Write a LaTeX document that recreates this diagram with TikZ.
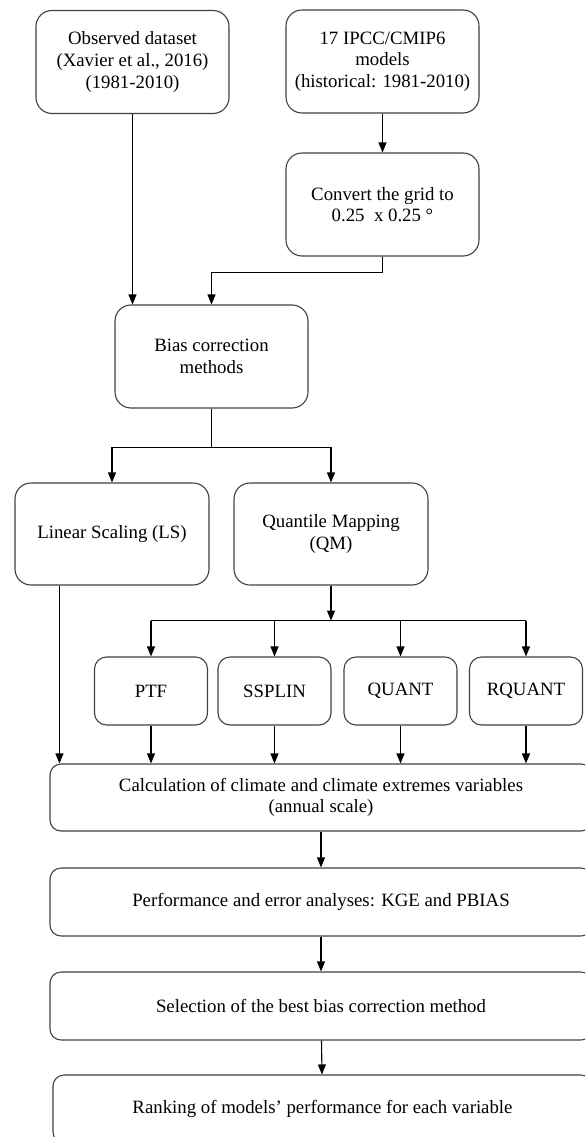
\documentclass[tikz,border=0pt]{standalone}
\usepackage{fontspec}
\setmainfont{Liberation Serif}
\usetikzlibrary{arrows.meta,positioning}

\begin{document}
\begin{tikzpicture}[x=1pt,y=-1pt,
    box/.style={draw=black!75, line width=1.1pt, rounded corners=16pt, align=center,
        inner sep=0pt, font=\fontsize{18.8}{21.6}\selectfont},
    bigbox/.style={box, minimum width=193pt, minimum height=103pt},
    subbox/.style={box, rounded corners=12pt, minimum width=113pt, minimum height=68pt},
    longbox/.style={box, rounded corners=11pt, minimum width=542pt, minimum height=68pt},
    link/.style={line width=1.1pt},
    flow/.style={link, -{Triangle[length=10pt,width=8pt]}}]
    \useasboundingbox (0,0) rectangle (585,1137);
    % Input data
    \node[bigbox] (obs) at (132.5,62) {Observed dataset\\(Xavier et al., 2016)\\(1981-2010)};
    \node[bigbox] (ipcc) at (382.5,61.5) {17 IPCC/CMIP6\\models\\(historical: 1981-2010)};
    \node[bigbox] (grid) at (382.5,204.5) {Convert the grid to\\0.25~ x 0.25 °};
    % Correction methods
    \node[bigbox] (bias) at (211.5,356.5) {Bias correction\\methods};
    \node[bigbox, minimum width=194pt, minimum height=102pt] (ls) at (112,534) {Linear Scaling (LS)};
    \node[bigbox, minimum width=194pt, minimum height=102pt] (qm) at (331,534) {Quantile Mapping\\(QM)};
    % Quantile mapping variants
    \node[subbox] (ptf) at (151,691) {PTF};
    \node[subbox] (ssplin) at (274.5,691) {SSPLIN};
    \node[subbox] (quant) at (400.5,691) {QUANT};
    \node[subbox] (rquant) at (526,691) {RQUANT};
    % Evaluation steps
    \node[longbox, minimum height=67pt] (calc) at (321,797.5) {Calculation of climate and climate extremes variables\\(annual scale)};
    \node[longbox] (perf) at (321,902) {Performance and error analyses: KGE and PBIAS};
    \node[longbox] (sel) at (321,1006) {Selection of the best bias correction method};
    \node[longbox, minimum width=539pt] (rank) at (322.5,1109) {Ranking of models’ performance for each variable};
    %
    % Inputs into the correction
    \draw[flow] (obs.south) -- (obs.south |- bias.north);
    \draw[flow] (ipcc) -- (grid);
    \draw[link] (grid.south) -- ++(0,16) coordinate (gridout);
    \draw[flow] (gridout) -| (bias.north);
    % Split into LS and QM
    \draw[link] (bias.south) -- ++(0,39) coordinate (biasout);
    \draw[flow] (biasout) -| (ls.north);
    \draw[flow] (biasout) -| (qm.north);
    % Split of QM into its variants
    \draw[flow] (qm.south) -- ++(0,35) coordinate (qmout);
    \draw[link] (qmout -| ptf.north) -- (qmout -| rquant.north);
    \foreach \m in {ptf,ssplin,quant,rquant} {
        \draw[flow] (qmout -| \m.north) -- (\m.north);
        \draw[flow] (\m.south) -- (\m.south |- calc.north);
    }
    \coordinate (lsout) at ([xshift=45pt]ls.south west);
    \draw[flow] (lsout) -- (lsout |- calc.north);
    % Evaluation chain
    \draw[flow] (calc) -- (perf);
    \draw[flow] (perf) -- (sel);
    \draw[flow] (sel) -- (rank);
\end{tikzpicture}
\end{document}
